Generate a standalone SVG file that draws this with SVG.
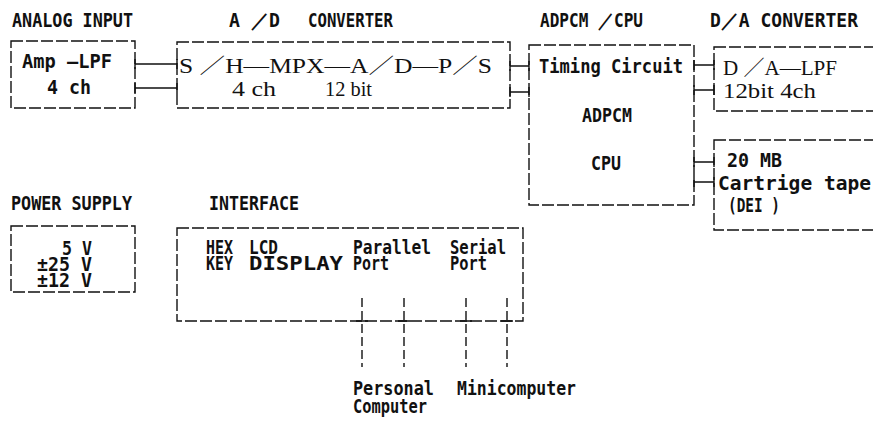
<svg xmlns="http://www.w3.org/2000/svg" width="873" height="422" viewBox="0 0 873 422">
<style>
.box{fill:none;stroke:#111;stroke-width:1.4;stroke-dasharray:12 3}
.conn{fill:none;stroke:#111;stroke-width:1.4}
.dconn{fill:none;stroke:#111;stroke-width:1.4;stroke-dasharray:9 4}
.m{font-family:"DejaVu Sans Mono","Liberation Mono",monospace;font-size:19px;font-weight:bold;fill:#111}
.s{font-family:"Liberation Serif","Noto Sans CJK JP",serif;font-size:21px;fill:#111}
</style>
<rect width="873" height="422" fill="#fff"/>
<g id="analog-input">
<text class="m" x="12" y="27" textLength="121" lengthAdjust="spacingAndGlyphs">ANALOG INPUT</text>
<rect class="box" x="11" y="41" width="124" height="67"/>
<text class="m" x="22" y="68" textLength="90" lengthAdjust="spacingAndGlyphs">Amp —LPF</text>
<text class="m" x="47" y="94" textLength="44" lengthAdjust="spacingAndGlyphs">4 ch</text>
</g>
<g id="ad-converter">
<text class="m" y="27"><tspan x="229" textLength="51" lengthAdjust="spacingAndGlyphs">A ／D</tspan><tspan x="308" textLength="85" lengthAdjust="spacingAndGlyphs">CONVERTER</tspan></text>
<rect class="box" x="177" y="42" width="333" height="66"/>
<text class="s" x="179" y="73" textLength="313" lengthAdjust="spacingAndGlyphs">S ／H—MPX—A／D—P／S</text>
<text class="s" x="232" y="96" textLength="44" lengthAdjust="spacingAndGlyphs">4 ch</text>
<text class="s" x="325" y="96" textLength="47" lengthAdjust="spacingAndGlyphs">12 bit</text>
</g>
<g id="adpcm-cpu">
<text class="m" x="540" y="27" textLength="103" lengthAdjust="spacingAndGlyphs">ADPCM ／CPU</text>
<rect class="box" x="529" y="45" width="165" height="160"/>
<text class="m" x="539" y="73" textLength="144" lengthAdjust="spacingAndGlyphs">Timing Circuit</text>
<text class="m" x="582" y="122" textLength="50" lengthAdjust="spacingAndGlyphs">ADPCM</text>
<text class="m" x="591" y="170" textLength="30" lengthAdjust="spacingAndGlyphs">CPU</text>
</g>
<g id="da-converter">
<text class="m" x="710" y="27" textLength="148" lengthAdjust="spacingAndGlyphs">D／A CONVERTER</text>
<rect class="box" x="714" y="47" width="170" height="64"/>
<text class="s" x="723" y="75" textLength="114" lengthAdjust="spacingAndGlyphs">D ／A—LPF</text>
<text class="s" x="723" y="98" textLength="93" lengthAdjust="spacingAndGlyphs">12bit 4ch</text>
</g>
<g id="cartridge-tape">
<rect class="box" x="714" y="140" width="170" height="90"/>
<text class="m" x="727" y="167" textLength="55" lengthAdjust="spacingAndGlyphs">20 MB</text>
<text class="m" x="718" y="190" textLength="153" lengthAdjust="spacingAndGlyphs">Cartrige tape</text>
<text class="m" x="728" y="212" textLength="52" lengthAdjust="spacingAndGlyphs">(DEI )</text>
</g>
<g id="power-supply">
<text class="m" x="11" y="210" textLength="121" lengthAdjust="spacingAndGlyphs">POWER SUPPLY</text>
<rect class="box" x="11" y="226" width="124" height="66"/>
<text class="m" x="62" y="255" textLength="30" lengthAdjust="spacingAndGlyphs">5 V</text>
<text class="m" x="37" y="271" textLength="55" lengthAdjust="spacingAndGlyphs">±25 V</text>
<text class="m" x="37" y="287" textLength="55" lengthAdjust="spacingAndGlyphs">±12 V</text>
</g>
<g id="interface">
<text class="m" x="209" y="210" textLength="90" lengthAdjust="spacingAndGlyphs">INTERFACE</text>
<rect class="box" x="177" y="228" width="346" height="93"/>
<text class="m" x="206" y="254" textLength="27" lengthAdjust="spacingAndGlyphs">HEX</text>
<text class="m" x="206" y="270" textLength="27" lengthAdjust="spacingAndGlyphs">KEY</text>
<text class="m" x="249" y="254" textLength="29" lengthAdjust="spacingAndGlyphs">LCD</text>
<text class="m" x="249" y="270" textLength="94" lengthAdjust="spacingAndGlyphs">DISPLAY</text>
<text class="m" x="353" y="254" textLength="78" lengthAdjust="spacingAndGlyphs">Parallel</text>
<text class="m" x="353" y="270" textLength="36" lengthAdjust="spacingAndGlyphs">Port</text>
<text class="m" x="450" y="254" textLength="56" lengthAdjust="spacingAndGlyphs">Serial</text>
<text class="m" x="450" y="270" textLength="37" lengthAdjust="spacingAndGlyphs">Port</text>
</g>
<g id="personal-computer">
<text class="m" x="353" y="395" textLength="81" lengthAdjust="spacingAndGlyphs">Personal</text>
<text class="m" x="353" y="413" textLength="74" lengthAdjust="spacingAndGlyphs">Computer</text>
</g>
<g id="minicomputer">
<text class="m" x="457" y="395" textLength="119" lengthAdjust="spacingAndGlyphs">Minicomputer</text>
</g>
<g id="connectors">
<path class="conn" d="M135 64H177M135 59V69M177 59V69M135 88H177M135 83V93M177 83V93"/>
<path class="conn" d="M510 66H529M510 61V71M529 61V71M510 92H529M510 87V97M529 87V97"/>
<path class="conn" d="M694 65H714M694 60V70M714 60V70M694 90H714M694 85V95M714 85V95"/>
<path class="conn" d="M694 162H714M694 157V167M714 157V167M694 182H714M694 177V187M714 177V187"/>
<path class="dconn" d="M362 298V367M404 298V367M466 298V367M507 298V367"/>
<path class="conn" d="M356 321H368M398 321H410M460 321H472M501 321H513"/>
</g>
</svg>
